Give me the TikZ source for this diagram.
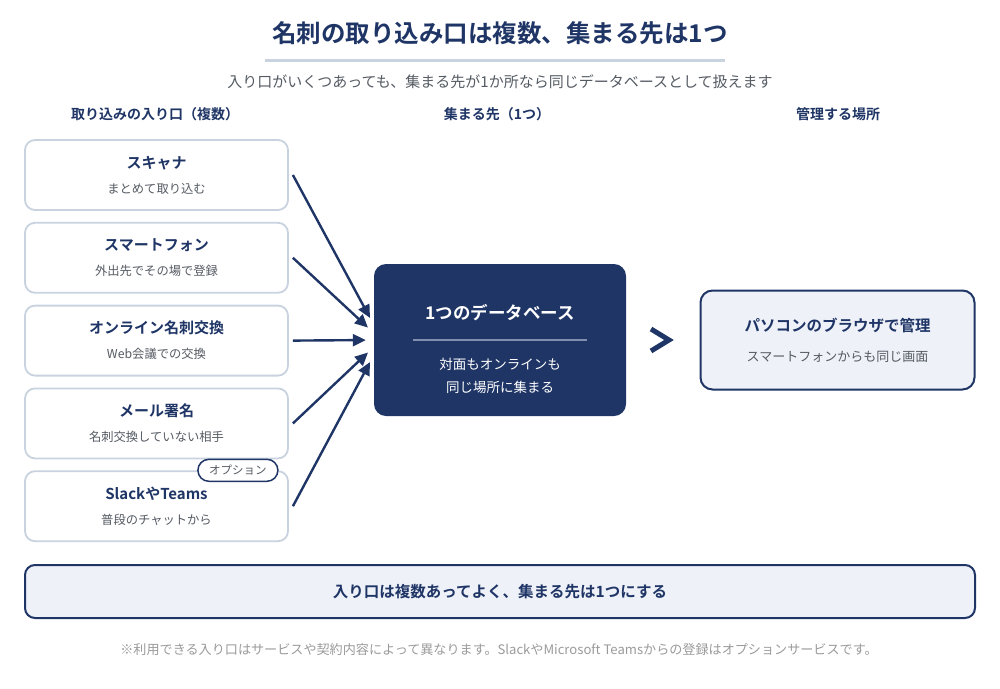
\documentclass[tikz,border=0pt]{standalone}
\usepackage{fontspec}
\setmainfont{Noto Sans CJK JP}[BoldFont={Noto Sans CJK JP Bold}]
\usetikzlibrary{arrows.meta, positioning}

\definecolor{navy}{HTML}{1F3566}
\definecolor{paleline}{HTML}{C9D3DF}
\definecolor{palefill}{HTML}{EEF1F8}
\definecolor{subgray}{HTML}{555B63}
\definecolor{notegray}{HTML}{9A9A9A}
\definecolor{dbrule}{HTML}{7F8FB0}

\newcommand{\fs}[1]{\fontsize{#1}{#1}\selectfont}
\newcommand{\boxttl}[1]{{\fontsize{15}{25}\selectfont\bfseries\color{navy}#1}}
\newcommand{\boxsub}[1]{{\fontsize{12.3}{25}\selectfont\color{subgray}#1}}

\begin{document}
\begin{tikzpicture}[x=1pt, y=-1pt, node distance=11pt,
    every node/.style={inner sep=0pt},
    inbox/.style={draw=paleline, line width=1.8pt, fill=white, rounded corners=10pt,
                  minimum width=263pt, minimum height=70pt, align=center,
                  font=\fontsize{12.3}{25}\selectfont},
    colhead/.style={font=\fs{14}\bfseries, text=navy},
    arr/.style={-{Triangle[length=13pt, width=12pt]}, line width=2.4pt, draw=navy,
                shorten >=8pt}]
  \useasboundingbox (0,0) rectangle (1000,688);

  % title
  \node[font=\fs{24.5}\bfseries, text=navy] (title) at (500,33) {名刺の取り込み口は複数、集まる先は1つ};
  \draw[paleline, line width=3pt] (265,60) -- (725,60);
  \node[font=\fs{15}, text=subgray] (lead) at (500,82) {入り口がいくつあっても、集まる先が1か所なら同じデータベースとして扱えます};

  % column heads
  \node[colhead] (h1) at (155,114) {取り込みの入り口（複数）};
  \node[colhead] (h2) at (497,114) {集まる先（1つ）};
  \node[colhead] (h3) at (838,114) {管理する場所};

  % entry points
  \node[inbox] (scan) at (156.5,175) {\boxttl{スキャナ}\\\boxsub{まとめて取り込む}};
  \node[inbox, below=of scan] (phone) {\boxttl{スマートフォン}\\\boxsub{外出先でその場で登録}};
  \node[inbox, below=of phone] (web) {\boxttl{オンライン名刺交換}\\\boxsub{Web会議での交換}};
  \node[inbox, below=of web] (mail) {\boxttl{メール署名}\\\boxsub{名刺交換していない相手}};
  \node[inbox, below=of mail] (slack) {\boxttl{SlackやTeams}\\\boxsub{普段のチャットから}};
  \node[draw=navy, line width=1.5pt, fill=white, rounded corners=11pt,
        minimum width=80pt, minimum height=22pt, font=\fs{11.5}, text=subgray]
        (opt) at ([xshift=-51pt]slack.north east) {オプション};

  % database
  \node[fill=navy, rounded corners=12pt, minimum width=252pt, minimum height=152pt]
        (db) at (500,340) {};
  \node[font=\fs{17.5}\bfseries, text=white] (dbttl) at ([yshift=27pt]db.center) {1つのデータベース};
  \draw[dbrule, line width=1.2pt] ([xshift=-87pt]db.center) -- ([xshift=87pt]db.center);
  \node[font=\fontsize{13.5}{23}\selectfont, text=white, align=center] (dbsub)
        at ([yshift=-35.5pt]db.center) {対面もオンラインも\\同じ場所に集まる};

  \draw[arr] ([xshift=4pt]scan.east)  -- ([yshift=15pt]db.west);
  \draw[arr] ([xshift=4pt]phone.east) -- ([yshift=7pt]db.west);
  \draw[arr] ([xshift=4pt]web.east)   -- (db.west);
  \draw[arr] ([xshift=4pt]mail.east)  -- ([yshift=-7pt]db.west);
  \draw[arr] ([xshift=4pt]slack.east) -- ([yshift=-15pt]db.west);

  % management
  \node[draw=navy, line width=2pt, fill=palefill, rounded corners=12pt,
        minimum width=274pt, minimum height=99pt, align=center,
        font=\fontsize{13}{30}\selectfont] (pc) at (837.5,340)
        {{\fontsize{15.5}{30}\selectfont\bfseries\color{navy}パソコンのブラウザで管理}\\{\color{subgray}スマートフォンからも同じ画面}};
  \draw[navy, line width=5pt] (651,329) -- (669,340) -- (651,351);

  % summary
  \node[draw=navy, line width=2pt, fill=palefill, rounded corners=10pt,
        minimum width=950pt, minimum height=53pt, font=\fs{15.5}\bfseries, text=navy]
        (sum) at (500,591.5) {入り口は複数あってよく、集まる先は1つにする};
  \node[font=\fs{13.1}, text=notegray] (note) at (499,650)
        {※利用できる入り口はサービスや契約内容によって異なります。SlackやMicrosoft Teamsからの登録はオプションサービスです。};
\end{tikzpicture}
\end{document}
